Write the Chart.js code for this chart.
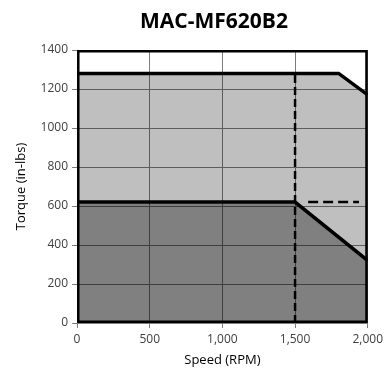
<!DOCTYPE html>
<html>
<head>
<meta charset="utf-8">
<script src="https://cdn.jsdelivr.net/npm/chart.js@4"></script>
<style>
  html, body { margin: 0; padding: 0; background: #fff; }
  #wrap { width: 387px; height: 372px; }
</style>
</head>
<body>
<div id="wrap"><canvas id="torqueChart"></canvas></div>
<script>
// Torque curve data (speed in RPM, torque in in-lbs)
const peakSpeed = [0, 1800, 2000];
const peakTorque = [1280, 1280, 1170];
const contSpeed = [0, 1500, 2000];
const contTorque = [620, 620, 320];
const ratedSpeed = [1500, 1500];
const ratedTorque = [0, 1280];
const markSpeed = [1590, 1940];
const markTorque = [620, 620];
const frameSpeed = [0, 0, 2000, 2000, 0];
const frameTorque = [0, 1400, 1400, 0, 0];

const toPoints = (xs, ys) => xs.map((x, i) => ({ x: x, y: ys[i] }));

// title drawn above the plot, a bit left of the plot centre like the original
const titlePlugin = {
    id: "topTitle",
    afterDraw(chart) {
        const ctx = chart.ctx;
        ctx.save();
        ctx.font = "bold 21px 'Open Sans'";
        ctx.fillStyle = "#000";
        ctx.textAlign = "center";
        ctx.textBaseline = "middle";
        ctx.fillText("MAC-MF620B2", 214, 22);
        ctx.restore();
    }
};

const lineBase = { pointRadius: 0, tension: 0, borderJoinStyle: "miter", borderColor: "#000" };

new Chart(document.getElementById("torqueChart").getContext("2d"), {
    type: "line",
    data: {
        datasets: [
            Object.assign({}, lineBase, { data: toPoints(frameSpeed, frameTorque), borderWidth: 5, fill: false }),
            Object.assign({}, lineBase, { data: toPoints(markSpeed, markTorque), borderWidth: 2.5, borderDash: [10, 5], fill: false }),
            Object.assign({}, lineBase, { data: toPoints(ratedSpeed, ratedTorque), borderWidth: 2.5, borderDash: [8, 4], fill: false }),
            Object.assign({}, lineBase, { data: toPoints(contSpeed, contTorque), borderWidth: 3.5, fill: "origin", backgroundColor: "rgba(0,0,0,0.33)" }),
            Object.assign({}, lineBase, { data: toPoints(peakSpeed, peakTorque), borderWidth: 3.5, fill: "origin", backgroundColor: "rgba(0,0,0,0.25)" })
        ]
    },
    options: {
        responsive: true,
        maintainAspectRatio: false,
        animation: false,
        layout: { padding: { top: 50, right: 0, bottom: 4, left: 13 } },
        plugins: {
            legend: { display: false },
            tooltip: { enabled: false }
        },
        scales: {
            x: {
                type: "linear",
                min: 0,
                max: 2000,
                border: { display: false },
                grid: { color: "#7c7c7c", tickColor: "#7c7c7c", tickLength: 5 },
                ticks: {
                    stepSize: 500,
                    color: "#404040",
                    padding: 4,
                    maxRotation: 0,
                    font: { family: "'Open Sans'", size: 12 },
                    callback: (value) => value.toLocaleString("en-US")
                },
                title: { display: true, text: "Speed (RPM)", color: "#000", font: { family: "'Open Sans'", size: 13 }, padding: { top: 2, bottom: 0 } }
            },
            y: {
                min: 0,
                max: 1400,
                border: { display: false },
                grid: { color: "#7c7c7c", tickColor: "#7c7c7c", tickLength: 5 },
                ticks: {
                    stepSize: 200,
                    color: "#404040",
                    padding: 4,
                    font: { family: "'Open Sans'", size: 12 },
                    callback: (value) => String(value)
                },
                title: { display: true, text: "Torque (in-lbs)", color: "#000", font: { family: "'Open Sans'", size: 13 }, padding: { top: 0, bottom: 8 } }
            }
        }
    },
    plugins: [titlePlugin]
});
</script>
</body>
</html>
